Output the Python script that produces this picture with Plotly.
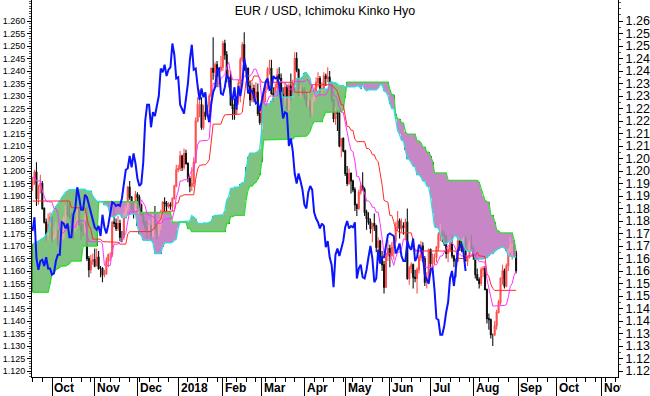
import numpy as np
import pandas as pd
import plotly.graph_objects as go

# ---------------- data ----------------
start_date = "2017-09-18"   # first bar (weekday series)

opens = (
    [1.1945,1.1955,1.1995,1.1890,1.1940,1.1950,1.1850,1.1795,1.1745,1.1785] +
    [1.1815,1.1730,1.1740,1.1760,1.1710,1.1730,1.1735,1.1810,1.1860,1.1825,1.1820,1.1795,1.1765,1.1790,1.1850,1.1785,1.1760,1.1760,1.1815,1.1650,1.1605,1.1640] +
    [1.1645,1.1620,1.1655,1.1610,1.1610,1.1585,1.1590,1.1640,1.1665,1.1665,1.1795,1.1790,1.1770,1.1790,1.1735,1.1735,1.1825,1.1850,1.1935,1.1895,1.1845,1.1845] +
    [1.1905,1.1895,1.1865,1.1825,1.1795,1.1775,1.1765,1.1780,1.1740,1.1825,1.1775,1.1750,1.1785,1.1835,1.1875,1.1870,1.1860,1.1865,1.1860,1.1890,1.1940] +
    [1.2005,1.2010,1.2060,1.2015,1.2070,1.2030,1.1970,1.1940,1.1950,1.2035,1.2200,1.2265,1.2265,1.2175,1.2235,1.2220,1.2260,1.2300,1.2410,1.2395,1.2425,1.2380,1.2405] +
    [1.2415,1.2510,1.2465,1.2370,1.2375,1.2265,1.2250,1.2230,1.2290,1.2350,1.2445,1.2505,1.2405,1.2410,1.2340,1.2285,1.2330,1.2295,1.2315,1.2230] +
    [1.2195,1.2270,1.2315,1.2335,1.2405,1.2410,1.2310,1.2305,1.2335,1.2385,1.2370,1.2305,1.2285,1.2335,1.2245,1.2340,1.2300,1.2350,1.2450,1.2405,1.2310,1.2325] +
    [1.2320,1.2300,1.2270,1.2275,1.2240,1.2280,1.2320,1.2355,1.2370,1.2325,1.2330,1.2380,1.2370,1.2375,1.2345,1.2285,1.2210,1.2235,1.2230,1.2100,1.2130] +
    [1.2080,1.1990,1.1950,1.1990,1.1960,1.1925,1.1865,1.1850,1.1915,1.1940,1.1925,1.1835,1.1810,1.1795,1.1770,1.1790,1.1780,1.1695,1.1720,1.1655,1.1625,1.1535,1.1665] +
    [1.1690,1.1660,1.1695,1.1720,1.1775,1.1800,1.1770,1.1780,1.1775,1.1795,1.1570,1.1610,1.1625,1.1575,1.1570,1.1605,1.1655,1.1700,1.1650,1.1555,1.1570] +
    [1.1685,1.1630,1.1655,1.1655,1.1695,1.1745,1.1750,1.1745,1.1740,1.1670,1.1685,1.1710,1.1660,1.1640,1.1640,1.1720,1.1695,1.1685,1.1730,1.1640,1.1655,1.1705] +
    [1.1690,1.1660,1.1585,1.1565,1.1550,1.1605,1.1610,1.1525,1.1410,1.1405,1.1345,1.1345,1.1380,1.1435,1.1475,1.1570,1.1600,1.1540,1.1620,1.1680,1.1700,1.1705,1.1670]
)
highs = (
    [1.1975,1.2005,1.2035,1.1945,1.1985,1.1960,1.1855,1.1810,1.1830,1.1835] +
    [1.1820,1.1775,1.1795,1.1765,1.1745,1.1765,1.1820,1.1860,1.1880,1.1875,1.1835,1.1810,1.1805,1.1860,1.1855,1.1800,1.1790,1.1830,1.1860,1.1660,1.1665,1.1670] +
    [1.1690,1.1690,1.1680,1.1620,1.1615,1.1605,1.1655,1.1670,1.1675,1.1800,1.1860,1.1810,1.1820,1.1805,1.1760,1.1835,1.1860,1.1940,1.1960,1.1900,1.1880,1.1920] +
    [1.1915,1.1905,1.1870,1.1835,1.1805,1.1800,1.1805,1.1785,1.1830,1.1860,1.1790,1.1810,1.1845,1.1880,1.1895,1.1880,1.1875,1.1875,1.1895,1.1945,1.2025] +
    [1.2025,1.2080,1.2065,1.2090,1.2085,1.2035,1.1980,1.2015,1.2055,1.2215,1.2295,1.2325,1.2295,1.2265,1.2295,1.2265,1.2310,1.2415,1.2535,1.2435,1.2440,1.2415,1.2460] +
    [1.2520,1.2525,1.2480,1.2405,1.2400,1.2295,1.2290,1.2300,1.2365,1.2455,1.2515,1.2555,1.2425,1.2415,1.2360,1.2355,1.2345,1.2355,1.2350,1.2245] +
    [1.2275,1.2330,1.2365,1.2415,1.2445,1.2445,1.2335,1.2350,1.2410,1.2415,1.2390,1.2335,1.2355,1.2345,1.2350,1.2390,1.2365,1.2475,1.2475,1.2410,1.2345,1.2335] +
    [1.2335,1.2315,1.2320,1.2285,1.2295,1.2335,1.2375,1.2395,1.2380,1.2355,1.2395,1.2390,1.2415,1.2400,1.2350,1.2290,1.2255,1.2245,1.2240,1.2130,1.2135] +
    [1.2085,1.2020,1.2010,1.1995,1.1965,1.1935,1.1870,1.1925,1.1955,1.1995,1.1935,1.1845,1.1835,1.1810,1.1790,1.1830,1.1785,1.1735,1.1725,1.1680,1.1640,1.1675,1.1725] +
    [1.1705,1.1715,1.1720,1.1795,1.1840,1.1810,1.1810,1.1795,1.1810,1.1850,1.1620,1.1635,1.1630,1.1605,1.1615,1.1665,1.1720,1.1715,1.1660,1.1595,1.1690] +
    [1.1690,1.1670,1.1670,1.1700,1.1755,1.1790,1.1765,1.1760,1.1745,1.1695,1.1725,1.1745,1.1665,1.1650,1.1740,1.1725,1.1720,1.1735,1.1740,1.1660,1.1720,1.1745] +
    [1.1700,1.1665,1.1610,1.1575,1.1615,1.1620,1.1620,1.1530,1.1430,1.1410,1.1350,1.1400,1.1445,1.1485,1.1575,1.1625,1.1610,1.1630,1.1690,1.1735,1.1710,1.1720,1.1680]
)
lows = (
    [1.1920,1.1945,1.1860,1.1865,1.1910,1.1845,1.1790,1.1720,1.1720,1.1775] +
    [1.1715,1.1725,1.1730,1.1700,1.1670,1.1715,1.1725,1.1790,1.1815,1.1810,1.1775,1.1730,1.1755,1.1770,1.1780,1.1725,1.1740,1.1750,1.1640,1.1575,1.1590,1.1625] +
    [1.1615,1.1620,1.1605,1.1575,1.1555,1.1575,1.1585,1.1615,1.1640,1.1655,1.1775,1.1760,1.1760,1.1720,1.1715,1.1725,1.1810,1.1840,1.1885,1.1840,1.1810,1.1835] +
    [1.1850,1.1850,1.1820,1.1785,1.1760,1.1730,1.1755,1.1720,1.1735,1.1765,1.1725,1.1740,1.1765,1.1815,1.1840,1.1840,1.1850,1.1845,1.1840,1.1885,1.1935] +
    [1.1995,1.2000,1.2000,1.2005,1.2025,1.1955,1.1915,1.1920,1.1935,1.2030,1.2195,1.2215,1.2165,1.2165,1.2205,1.2220,1.2235,1.2295,1.2365,1.2375,1.2335,1.2335,1.2395] +
    [1.2400,1.2445,1.2355,1.2335,1.2260,1.2205,1.2205,1.2225,1.2265,1.2275,1.2435,1.2400,1.2375,1.2335,1.2260,1.2275,1.2275,1.2275,1.2220,1.2185] +
    [1.2155,1.2260,1.2275,1.2325,1.2385,1.2305,1.2275,1.2290,1.2320,1.2365,1.2300,1.2260,1.2260,1.2240,1.2240,1.2280,1.2290,1.2340,1.2395,1.2300,1.2290,1.2305] +
    [1.2285,1.2255,1.2255,1.2215,1.2220,1.2275,1.2290,1.2335,1.2310,1.2305,1.2320,1.2340,1.2355,1.2335,1.2275,1.2195,1.2185,1.2160,1.2095,1.2055,1.2075] +
    [1.1980,1.1940,1.1945,1.1910,1.1915,1.1840,1.1820,1.1845,1.1905,1.1920,1.1820,1.1765,1.1785,1.1750,1.1715,1.1760,1.1675,1.1680,1.1645,1.1600,1.1510,1.1535,1.1640] +
    [1.1615,1.1660,1.1645,1.1710,1.1760,1.1730,1.1755,1.1745,1.1725,1.1565,1.1545,1.1590,1.1530,1.1555,1.1510,1.1590,1.1640,1.1635,1.1540,1.1530,1.1565] +
    [1.1590,1.1610,1.1625,1.1635,1.1680,1.1720,1.1715,1.1700,1.1650,1.1635,1.1675,1.1650,1.1615,1.1575,1.1635,1.1680,1.1675,1.1665,1.1640,1.1620,1.1650,1.1685] +
    [1.1645,1.1570,1.1560,1.1530,1.1540,1.1575,1.1525,1.1390,1.1365,1.1330,1.1300,1.1340,1.1365,1.1430,1.1465,1.1545,1.1530,1.1535,1.1600,1.1675,1.1645,1.1655,1.1590]
)
closes = (
    [1.1955,1.1995,1.1890,1.1940,1.1950,1.1850,1.1795,1.1745,1.1785,1.1815] +
    [1.1730,1.1740,1.1760,1.1710,1.1730,1.1735,1.1810,1.1860,1.1825,1.1820,1.1795,1.1765,1.1790,1.1850,1.1785,1.1760,1.1760,1.1815,1.1650,1.1605,1.1640,1.1645] +
    [1.1620,1.1655,1.1610,1.1610,1.1585,1.1590,1.1640,1.1665,1.1665,1.1795,1.1790,1.1770,1.1790,1.1735,1.1735,1.1825,1.1850,1.1935,1.1895,1.1845,1.1845,1.1905] +
    [1.1895,1.1865,1.1825,1.1795,1.1775,1.1765,1.1780,1.1740,1.1825,1.1775,1.1750,1.1785,1.1835,1.1875,1.1870,1.1860,1.1865,1.1860,1.1890,1.1940,1.2005] +
    [1.2010,1.2060,1.2015,1.2070,1.2030,1.1970,1.1940,1.1950,1.2035,1.2200,1.2265,1.2265,1.2175,1.2235,1.2220,1.2260,1.2300,1.2410,1.2395,1.2425,1.2380,1.2405,1.2415] +
    [1.2510,1.2465,1.2370,1.2375,1.2265,1.2250,1.2230,1.2290,1.2350,1.2445,1.2505,1.2405,1.2410,1.2340,1.2285,1.2330,1.2295,1.2315,1.2230,1.2195] +
    [1.2270,1.2315,1.2335,1.2405,1.2410,1.2310,1.2305,1.2335,1.2385,1.2370,1.2305,1.2285,1.2335,1.2245,1.2340,1.2300,1.2350,1.2450,1.2405,1.2310,1.2325,1.2320] +
    [1.2300,1.2270,1.2275,1.2240,1.2280,1.2320,1.2355,1.2370,1.2325,1.2330,1.2380,1.2370,1.2375,1.2345,1.2285,1.2210,1.2235,1.2230,1.2100,1.2130,1.2080] +
    [1.1990,1.1950,1.1990,1.1960,1.1925,1.1865,1.1850,1.1915,1.1940,1.1925,1.1835,1.1810,1.1795,1.1770,1.1790,1.1780,1.1695,1.1720,1.1655,1.1625,1.1535,1.1665,1.1690] +
    [1.1660,1.1695,1.1720,1.1775,1.1800,1.1770,1.1780,1.1775,1.1795,1.1570,1.1610,1.1625,1.1575,1.1570,1.1605,1.1655,1.1700,1.1650,1.1555,1.1570,1.1685] +
    [1.1630,1.1655,1.1655,1.1695,1.1745,1.1750,1.1745,1.1740,1.1670,1.1685,1.1710,1.1660,1.1640,1.1640,1.1720,1.1695,1.1685,1.1730,1.1640,1.1655,1.1705,1.1690] +
    [1.1660,1.1585,1.1565,1.1550,1.1605,1.1610,1.1525,1.1410,1.1405,1.1345,1.1345,1.1380,1.1435,1.1475,1.1570,1.1600,1.1540,1.1620,1.1680,1.1700,1.1705,1.1670,1.1600]
)

tenkan_early = [1.1975,1.1975,1.1960,1.1960,1.1960,1.1920,1.1900,1.1878]
kijun_early = [1.1880,1.1880,1.1880,1.1880,1.1880,1.1880,1.1880,1.1880,1.1880,1.1880,
               1.1880,1.1880,1.1880,1.1880,1.1880,1.1880,1.1880,1.1880,1.1880,1.1880,
               1.1853,1.1853,1.1853,1.1853,1.1853,1.1853]
span_a_early = [1.1710,1.1712,1.1715,1.1720,1.1725,1.1730,1.1735,1.1745,1.1760,1.1800,
                1.1830,1.1845,1.1860,1.1870,1.1880,1.1895,1.1905,1.1915,1.1920,1.1925,
                1.1925,1.1925,1.1925,1.1925,1.1925,1.1925]
span_b_early = [1.1515,1.1515,1.1515,1.1515,1.1515,1.1515,1.1515,1.1515,1.1515,1.1550,
                1.1590,1.1595,1.1605,1.1610,1.1615,1.1620,1.1620,1.1620,1.1625,1.1630,
                1.1640,1.1640,1.1640,1.1640,1.1640,1.1640,1.1700,1.1700,1.1700,1.1700,
                1.1700,1.1700,1.1700,1.1700,1.1877,1.1877,1.1877,1.1877,1.1877,1.1877,
                1.1877,1.1877,1.1877,1.1877,1.1877,1.1877,1.1877,1.1877,1.1877,1.1877,
                1.1877,1.1877,1.1877,1.1877,1.1877,1.1834,1.1834,1.1834,1.1834,1.1834,
                1.1834,1.1834,1.1834,1.1834,1.1834,1.1834,1.1834,1.1834,1.1834,1.1834,
                1.1834,1.1834,1.1795,1.1795,1.1795,1.1795,1.1795]

month_labels = ["Oct","Nov","Dec","2018","Feb","Mar","Apr","May","Jun","Jul","Aug","Sep","Oct","Nov"]
left_tickvals = [1.120,1.125,1.130,1.135,1.140,1.145,1.150,1.155,1.160,1.165,1.170,1.175,1.180,1.185,
                 1.190,1.195,1.200,1.205,1.210,1.215,1.220,1.225,1.230,1.235,1.240,1.245,1.250,1.255,1.260]
left_ticktext = ["%.3f" % v for v in left_tickvals]
right_ticktext = ["1.12","1.12","1.13","1.13","1.14","1.14","1.15","1.15","1.16","1.16","1.17","1.17",
                  "1.18","1.18","1.19","1.19","1.20","1.20","1.21","1.21","1.22","1.22","1.23","1.23",
                  "1.24","1.24","1.25","1.25","1.26"]

# ---------------- Ichimoku lines ----------------
n = len(closes)
x = np.arange(n)
H = np.array(highs); L = np.array(lows); C = np.array(closes)

def mid(i, w, early):
    if i - w + 1 < 0:
        return early[i]
    return (H[i - w + 1:i + 1].max() + L[i - w + 1:i + 1].min()) / 2

tenkan = np.array([mid(i, 9, tenkan_early) for i in range(n)])
kijun = np.array([mid(i, 26, kijun_early) for i in range(n)])
span_a = np.array([(tenkan[t - 26] + kijun[t - 26]) / 2 if t >= 26 else span_a_early[t] for t in range(n)])
span_b = np.array([mid(t - 26, 52, None) if t - 77 >= 0 else span_b_early[t] for t in range(n)])
cloud_top = np.maximum(span_a, span_b)
cloud_bot = np.minimum(span_a, span_b)
bull = span_a >= span_b

# ---------------- calendar axis ----------------
cal = pd.bdate_range(start_date, periods=302)
month_pos = [i for i in range(1, len(cal)) if cal[i].month != cal[i - 1].month]

fig = go.Figure()

# cloud background (light) : green where span A above span B, purple where below
fig.add_trace(go.Scatter(x=x, y=span_b, mode="lines", line=dict(width=0), hoverinfo="skip"))
fig.add_trace(go.Scatter(x=x, y=cloud_top, mode="lines", line=dict(width=0), fill="tonexty",
                         fillcolor="rgba(205,238,205,0.6)", hoverinfo="skip"))
fig.add_trace(go.Scatter(x=x, y=span_a, mode="lines", line=dict(width=0), hoverinfo="skip"))
fig.add_trace(go.Scatter(x=x, y=cloud_top, mode="lines", line=dict(width=0), fill="tonexty",
                         fillcolor="rgba(242,208,242,0.6)", hoverinfo="skip"))
# cloud hatching: one vertical line per bar (opacity < 1 makes plotly snap bars to whole pixels)
fig.add_trace(go.Bar(x=x, y=cloud_top - cloud_bot, base=cloud_bot, width=0.52,
                     marker=dict(color=np.where(bull, "#0b7d0b", "#861686"), line=dict(width=0), opacity=0.99),
                     hoverinfo="skip"))
fig.add_trace(go.Scatter(x=x, y=span_b, mode="lines", line=dict(color="#33dd33", width=1.3)))
fig.add_trace(go.Scatter(x=x, y=span_a, mode="lines", line=dict(color="#33dddd", width=1.3)))

# candles
fig.add_trace(go.Candlestick(x=x, open=opens, high=highs, low=lows, close=closes,
                             increasing=dict(line=dict(color="#ff5050", width=1.1), fillcolor="#d80000"),
                             decreasing=dict(line=dict(color="#111111", width=1.1), fillcolor="#000000"),
                             whiskerwidth=0))

# kijun / tenkan / chikou
fig.add_trace(go.Scatter(x=x, y=kijun, mode="lines", line=dict(color="#ff2a2a", width=1)))
fig.add_trace(go.Scatter(x=x, y=tenkan, mode="lines", line=dict(color="#ff33ff", width=1)))
fig.add_trace(go.Scatter(x=x[26:] - 26, y=C[26:], mode="lines", line=dict(color="#0a14ff", width=2)))

# invisible trace for right axis
fig.add_trace(go.Scatter(x=[x[0]], y=[closes[0]], yaxis="y2", mode="markers", marker=dict(opacity=0),
                         hoverinfo="skip"))

yr = [1.1176, 1.2684]
fig.update_layout(
    width=650, height=396,
    margin=dict(l=32, r=32, t=0, b=19),
    paper_bgcolor="white", plot_bgcolor="white",
    font=dict(family="Arial, Liberation Sans, sans-serif", color="black"),
    title=dict(text="EUR / USD, Ichimoku Kinko Hyo", x=0.5, xanchor="center", y=0.974, yanchor="middle",
               font=dict(size=12.5, color="black")),
    showlegend=False, bargap=0, bargroupgap=0,
    xaxis=dict(range=[-0.30, 301.5], showgrid=False, zeroline=False, showline=True, linecolor="black",
               linewidth=1, ticks="outside", tickvals=month_pos, ticklen=19, tickcolor="black",
               showticklabels=False, rangeslider=dict(visible=False),
               minor=dict(ticks="outside", ticklen=4, tick0=0, dtick=5, tickcolor="black")),
    yaxis=dict(range=yr, showgrid=False, zeroline=False, showline=True, linecolor="black", linewidth=1,
               ticks="outside", ticklen=4, tickcolor="black", tickvals=left_tickvals, ticktext=left_ticktext,
               tickfont=dict(size=9), minor=dict(ticks="outside", ticklen=2, dtick=0.001, tick0=1.12, tickcolor="#555")),
    yaxis2=dict(range=yr, overlaying="y", side="right", showgrid=False, zeroline=False, showline=True,
                linecolor="black", linewidth=1, ticks="outside", ticklen=4, tickcolor="black",
                tickvals=left_tickvals, ticktext=right_ticktext, tickfont=dict(size=12.5),
                minor=dict(ticks="outside", ticklen=2, dtick=0.0025, tick0=1.12, tickcolor="#555")),
)

for lab, p in zip(month_labels, month_pos):
    ann = dict(x=p + 0.2, y=-0.030, xref="x", yref="paper", text="<b>%s</b>" % lab, showarrow=False,
               xanchor="left", yanchor="middle", font=dict(size=12, color="black"), align="left")
    if p > 282:
        ann["width"] = 17
    fig.add_annotation(**ann)

fig.write_html("out.html")
